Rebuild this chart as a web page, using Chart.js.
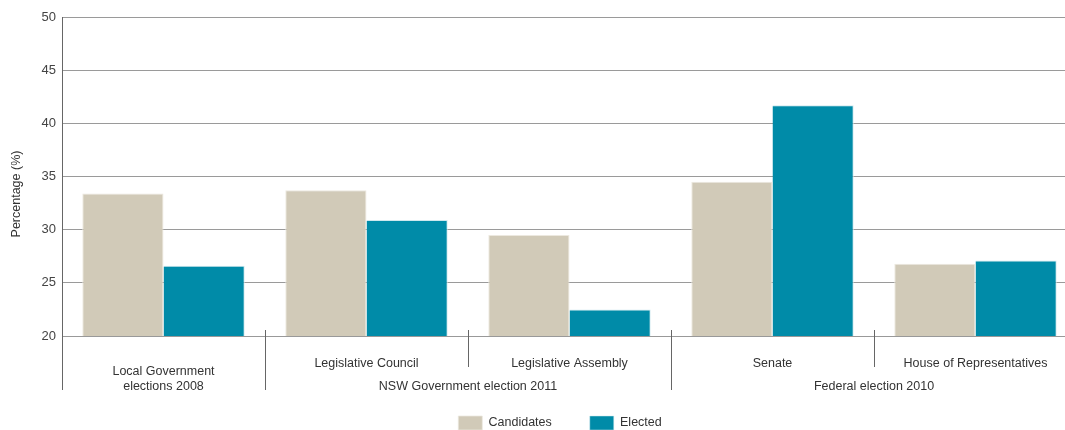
<!DOCTYPE html>
<html>
<head>
<meta charset="utf-8">
<script src="https://cdn.jsdelivr.net/npm/chart.js@4/dist/chart.umd.min.js"></script>
<style>
  html, body { margin: 0; padding: 0; background: #fff; overflow: hidden; }
  #wrap { position: relative; width: 1080px; height: 430px; }
</style>
</head>
<body>
<div id="wrap"><canvas id="genderChart"></canvas></div>
<script>
// Datos del gráfico
const categories = ['Local Government elections 2008', 'Legislative Council', 'Legislative Assembly', 'Senate', 'House of Representatives'];
const candidates = [33.4, 33.7, 29.5, 34.5, 26.8];
const elected = [26.6, 30.9, 22.5, 41.7, 27.1];
const groupNames = ['Local Government elections 2008', 'NSW Government election 2011', 'Federal election 2010'];
const groupOf = [0, 1, 1, 2, 2];
const yTicks = [20, 25, 30, 35, 40, 45, 50];
const yTitle = 'Percentage (%)';

const textColor = '#333';
const labelFont = '12.5px "Liberation Sans", Arial, sans-serif';

// Etiquetas de categorías, grupos y título del eje
const groupLabels = {
    id: 'groupLabels',
    afterLayout(chart) {
        // desplazar la leyenda para centrarla como en el original
        chart.legend.left += 43;
    },
    afterDraw(chart) {
        const x = chart.scales.x;
        const area = chart.chartArea;
        const ctx = chart.ctx;
        const half = (x.getPixelForValue(1) - x.getPixelForValue(0)) / 2;
        ctx.save();
        ctx.strokeStyle = '#666';
        ctx.lineWidth = 1;

        // eje izquierdo extendido
        ctx.beginPath();
        ctx.moveTo(area.left + 0.5, area.bottom);
        ctx.lineTo(area.left + 0.5, area.bottom + 54);
        ctx.stroke();

        // separadores
        for (let i = 1; i < categories.length; i++) {
            const px = Math.round(x.getPixelForValue(i) - half) + 0.5;
            const between = groupOf[i] !== groupOf[i - 1];
            ctx.beginPath();
            ctx.moveTo(px, area.bottom - 6);
            ctx.lineTo(px, area.bottom + (between ? 54 : 31));
            ctx.stroke();
        }

        ctx.fillStyle = textColor;
        ctx.font = labelFont;
        ctx.textAlign = 'center';
        ctx.textBaseline = 'middle';

        // etiquetas de categorías
        categories.forEach((name, i) => {
            const px = x.getPixelForValue(i);
            const members = groupOf.filter(g => g === groupOf[i]).length;
            if (members === 1) {
                ctx.fillText('Local Government', px, area.bottom + 36);
                ctx.fillText('elections 2008', px, area.bottom + 51);
            } else {
                ctx.fillText(name, px, area.bottom + 28);
            }
        });

        // etiquetas de grupos
        groupNames.forEach((name, g) => {
            const idx = groupOf.map((v, i) => v === g ? i : -1).filter(i => i >= 0);
            if (idx.length < 2) return;
            const px = (x.getPixelForValue(idx[0]) + x.getPixelForValue(idx[idx.length - 1])) / 2;
            ctx.fillText(name, px, area.bottom + 51);
        });

        // título del eje y
        ctx.translate(17, 194);
        ctx.rotate(-Math.PI / 2);
        ctx.fillText(yTitle, 0, 0);
        ctx.restore();
    }
};

const ctx = document.getElementById('genderChart').getContext('2d');
new Chart(ctx, {
    type: 'bar',
    data: {
        labels: categories,
        datasets: [{
            label: 'Candidates',
            data: candidates,
            backgroundColor: '#d1cab8',
            borderColor: '#ece8df',
            borderWidth: { top: 1, left: 1, right: 1, bottom: 0 }
        }, {
            label: 'Elected',
            data: elected,
            backgroundColor: '#008ba8',
            borderColor: '#cfe8ee',
            borderWidth: { top: 1, left: 0, right: 1, bottom: 0 }
        }]
    },
    options: {
        responsive: true,
        maintainAspectRatio: false,
        animation: false,
        layout: { padding: { left: 0, right: 3, top: 17, bottom: -10 } },
        categoryPercentage: 0.8,
        barPercentage: 1.0,
        plugins: {
            tooltip: { enabled: false },
            legend: {
                position: 'bottom',
                labels: {
                    boxWidth: 24,
                    boxHeight: 14,
                    padding: 38,
                    color: textColor,
                    font: { family: '"Liberation Sans", Arial, sans-serif', size: 12.5 }
                }
            }
        },
        scales: {
            x: {
                ticks: { display: false },
                grid: { display: false },
                border: { display: true, color: '#999', width: 1 },
                afterFit(scale) { scale.height = 42; }
            },
            y: {
                min: 20,
                max: 50,
                afterBuildTicks(scale) { scale.ticks = yTicks.map(v => ({ value: v })); },
                ticks: {
                    padding: 6,
                    color: '#444',
                    font: { family: '"Liberation Sans", Arial, sans-serif', size: 13 }
                },
                grid: { color: '#9a9a9a', drawTicks: false },
                border: { display: true, color: '#666', width: 1 },
                afterFit(scale) { scale.width = 62; }
            }
        }
    },
    plugins: [groupLabels]
});
</script>
</body>
</html>
